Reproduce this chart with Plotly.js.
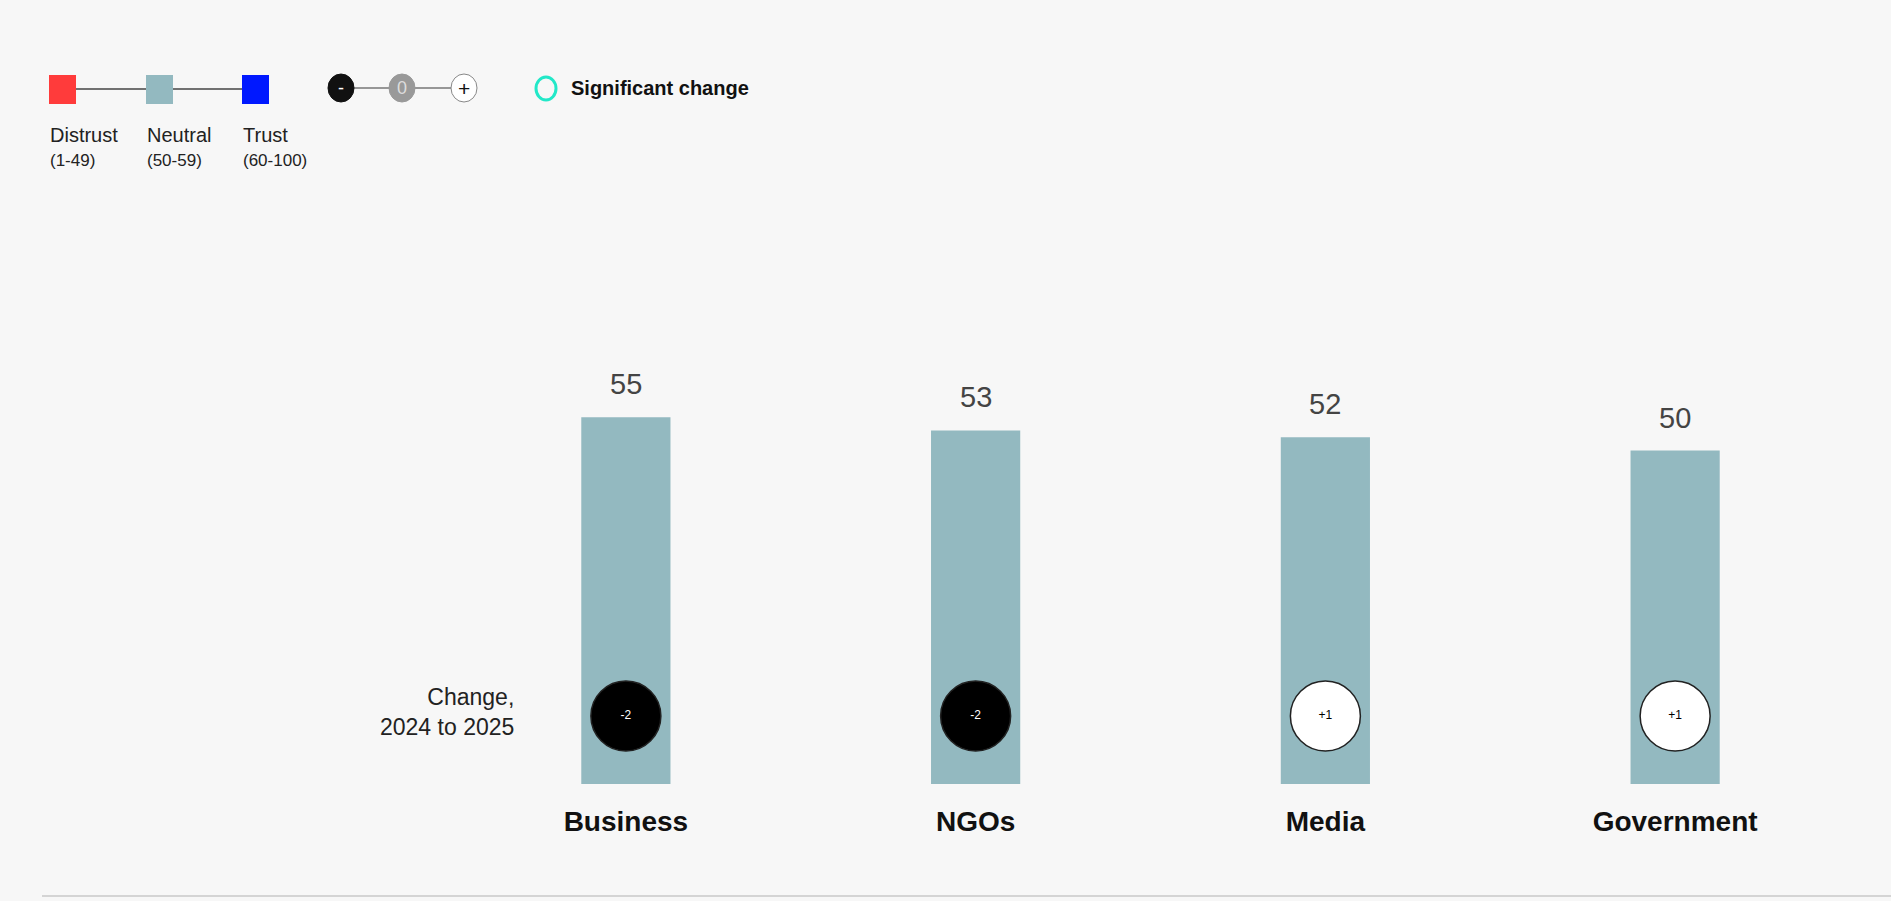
<!DOCTYPE html>
<html>
<head>
<meta charset="utf-8">
<script src="https://cdn.plot.ly/plotly-3.0.1.min.js"></script>
<style>
  html, body { margin: 0; padding: 0; background: #f7f7f7; }
  #chart { width: 1891px; height: 901px; }
</style>
</head>
<body>
<div id="chart"></div>
<script>
// ---- data ----
const categories = ["Business", "NGOs", "Media", "Government"];
const trustValues = [55, 53, 52, 50];
const changeValues = [-2, -2, 1, 1];
const changeLabels = ["-2", "-2", "+1", "+1"];

const legendBands = ["Distrust", "Neutral", "Trust"];
const legendRanges = ["(1-49)", "(50-59)", "(60-100)"];
const legendBandColors = ["#ff3b3b", "#93b9c0", "#0018ff"];
const changeKeyLabels = ["-", "0", "+"];
const significantLabel = "Significant change";
const changeRowLabel = "Change,<br>2024 to 2025";

// ---- layout geometry (pixels) ----
const W = 1891, H = 901;
const L = 451, R = 41, T = 117, B = 117;
const plotW = W - L - R, plotH = H - T - B;
const px = x => (x - L) / plotW;
const py = y => (H - B - y) / plotH;

const FONT = "'Liberation Sans Narrow', 'Liberation Sans', Arial, sans-serif";

const barColors = trustValues.map(v => v < 50 ? legendBandColors[0] : (v < 60 ? legendBandColors[1] : legendBandColors[2]));

const bars = {
  type: "bar",
  x: categories,
  y: trustValues,
  width: 0.255,
  marker: { color: barColors, line: { width: 0 } },
  hoverinfo: "x+y",
  showlegend: false
};

const CHANGE_ROW = 0.102;
const changes = {
  type: "scatter",
  mode: "markers+text",
  x: categories,
  y: categories.map(() => CHANGE_ROW),
  yaxis: "y2",
  text: changeLabels,
  textposition: "middle center",
  textfont: { family: FONT, size: 12, color: changeValues.map(v => v < 0 ? "#ffffff" : "#000000") },
  marker: {
    symbol: "circle",
    size: 70,
    color: changeValues.map(v => v < 0 ? "#000000" : (v > 0 ? "#ffffff" : "#999999")),
    line: { color: "#222222", width: 1.5 }
  },
  hoverinfo: "text",
  showlegend: false
};

const annotations = [];
// value labels above bars
categories.forEach((c, i) => {
  annotations.push({
    x: c, y: trustValues[i], xref: "x", yref: "y",
    text: String(trustValues[i]), showarrow: false,
    yanchor: "bottom", yshift: 15,
    font: { family: FONT, size: 29, color: "#444444" }
  });
});
// change row label
annotations.push({
  x: px(516), y: py(712), xref: "paper", yref: "paper",
  xanchor: "right", yanchor: "middle", align: "right",
  text: changeRowLabel, showarrow: false,
  font: { family: FONT, size: 23, color: "#222222" }
});

const shapes = [];
// legend: color bands
const bandX = [49, 146, 242];
shapes.push({ type: "line", xref: "paper", yref: "paper",
  x0: px(bandX[0] + 13), x1: px(bandX[2] + 13), y0: py(89), y1: py(89),
  line: { color: "#444444", width: 1.5 }, layer: "below" });
legendBands.forEach((b, i) => {
  shapes.push({ type: "rect", xref: "paper", yref: "paper",
    x0: px(bandX[i]), x1: px(bandX[i] + 27), y0: py(75), y1: py(104),
    fillcolor: legendBandColors[i], line: { width: 0 } });
  annotations.push({ x: px(bandX[i] - 1), y: py(135), xref: "paper", yref: "paper",
    xanchor: "left", yanchor: "middle", text: b, showarrow: false,
    font: { family: FONT, size: 20, color: "#222222" } });
  annotations.push({ x: px(bandX[i] - 1), y: py(161), xref: "paper", yref: "paper",
    xanchor: "left", yanchor: "middle", text: legendRanges[i], showarrow: false,
    font: { family: FONT, size: 17, color: "#222222" } });
});
// legend: change key circles
const keyX = [341, 402, 464];
const keyFill = ["#111111", "#999999", "#ffffff"];
const keyText = ["#ffffff", "#dddddd", "#111111"];
shapes.push({ type: "line", xref: "paper", yref: "paper",
  x0: px(keyX[0]), x1: px(keyX[2]), y0: py(88), y1: py(88),
  line: { color: "#777777", width: 1.5 } });
changeKeyLabels.forEach((k, i) => {
  shapes.push({ type: "circle", xref: "paper", yref: "paper",
    x0: px(keyX[i] - 13), x1: px(keyX[i] + 13), y0: py(74), y1: py(102),
    fillcolor: keyFill[i], line: { color: i === 2 ? "#888888" : keyFill[i], width: 1 } });
  annotations.push({ x: px(keyX[i]), y: py(88), xref: "paper", yref: "paper",
    xanchor: "center", yanchor: "middle", text: k, showarrow: false,
    font: { family: FONT, size: i === 2 ? 21 : 18, color: keyText[i] } });
});
// legend: significant change ring
shapes.push({ type: "circle", xref: "paper", yref: "paper",
  x0: px(536), x1: px(556), y0: py(77), y1: py(100),
  fillcolor: "rgba(0,0,0,0)", line: { color: "#22e8c8", width: 3 } });
annotations.push({ x: px(569), y: py(88), xref: "paper", yref: "paper",
  xanchor: "left", yanchor: "middle", text: "<b>" + significantLabel + "</b>", showarrow: false,
  font: { family: FONT, size: 20, color: "#111111" } });
// bottom rule
shapes.push({ type: "line", xref: "paper", yref: "paper",
  x0: px(42), x1: px(W), y0: py(896), y1: py(896),
  line: { color: "#d4d4d4", width: 2 } });

const layout = {
  width: W, height: H,
  margin: { l: L, r: R, t: T, b: B, pad: 0 },
  paper_bgcolor: "#f7f7f7",
  plot_bgcolor: "#f7f7f7",
  xaxis: {
    type: "category",
    range: [-0.5, categories.length - 0.5],
    showgrid: false, zeroline: false, showline: false,
    ticks: "outside", ticklen: 12, tickcolor: "rgba(0,0,0,0)",
    tickfont: { family: FONT, size: 28, color: "#111111", weight: "bold" },
    fixedrange: true
  },
  yaxis: {
    range: [0, 100],
    showgrid: false, zeroline: false, showline: false,
    showticklabels: false, ticks: "",
    fixedrange: true
  },
  yaxis2: {
    range: [0, 1], overlaying: "y",
    showgrid: false, zeroline: false, showline: false,
    showticklabels: false, ticks: "", fixedrange: true
  },
  annotations: annotations,
  shapes: shapes,
  showlegend: false
};

Plotly.newPlot("chart", [bars, changes], layout, { displayModeBar: false });
</script>
</body>
</html>
